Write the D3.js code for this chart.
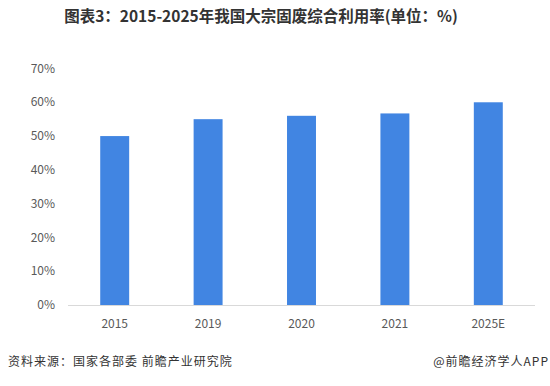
<!DOCTYPE html>
<html>
<head>
<meta charset="utf-8">
<script src="https://cdn.jsdelivr.net/npm/d3@7"></script>
<style>
  body { margin: 0; background: #fff; }
  text { font-family: "Noto Sans CJK SC", "Noto Sans", sans-serif; }
</style>
</head>
<body>
<script>
// chart data
var years = ["2015", "2019", "2020", "2021", "2025E"];
var rates = [50, 55, 56, 56.7, 60];
var yTicks = [0, 10, 20, 30, 40, 50, 60, 70];

var width = 550, height = 386;

var svg = d3.select("body")
  .append("svg")
    .attr("width", width)
    .attr("height", height);

// scales
var x = d3.scaleBand()
  .domain(years)
  .range([68, 535])
  .paddingInner(0.69)
  .paddingOuter(0.345);

var y = d3.scaleLinear()
  .domain([0, 70])
  .range([305, 68.5]);

// title
svg.append("text")
  .attr("x", 261)
  .attr("y", 22)
  .attr("text-anchor", "middle")
  .attr("font-size", "15.5px")
  .attr("font-weight", "bold")
  .attr("fill", "#333")
  .text("图表3：2015-2025年我国大宗固废综合利用率(单位：%)");

// y axis labels
svg.selectAll(".ytick")
  .data(yTicks)
  .enter()
  .append("text")
    .attr("class", "ytick")
    .attr("x", 55)
    .attr("y", function(d){ return y(d); })
    .attr("dy", "0.35em")
    .attr("text-anchor", "end")
    .attr("font-size", "12px")
    .attr("fill", "#595959")
    .text(function(d){ return d + "%"; });

// bars
svg.selectAll("rect")
  .data(rates)
  .enter()
  .append("rect")
    .attr("x", function(d, i){ return x(years[i]); })
    .attr("y", function(d){ return y(d); })
    .attr("width", x.bandwidth())
    .attr("height", function(d){ return y(0) - y(d); })
    .attr("fill", "#4185e2");

// baseline
svg.append("line")
  .attr("x1", 68)
  .attr("x2", 535)
  .attr("y1", y(0) + 0.5)
  .attr("y2", y(0) + 0.5)
  .attr("stroke", "#d9d9d9")
  .attr("stroke-width", 1);

// x axis labels
svg.selectAll(".xtick")
  .data(years)
  .enter()
  .append("text")
    .attr("class", "xtick")
    .attr("x", function(d){ return x(d) + x.bandwidth() / 2; })
    .attr("y", 324)
    .attr("dy", "0.35em")
    .attr("text-anchor", "middle")
    .attr("font-size", "12px")
    .attr("fill", "#595959")
    .text(function(d){ return d; });

// footer
svg.append("text")
  .attr("x", 8)
  .attr("y", 366)
  .attr("font-size", "12px")
  .attr("letter-spacing", "1px")
  .attr("fill", "#333")
  .text("资料来源：国家各部委 前瞻产业研究院");

svg.append("text")
  .attr("x", 549)
  .attr("y", 366)
  .attr("text-anchor", "end")
  .attr("font-size", "12px")
  .attr("letter-spacing", "1px")
  .attr("fill", "#333")
  .text("@前瞻经济学人APP");
</script>
</body>
</html>
